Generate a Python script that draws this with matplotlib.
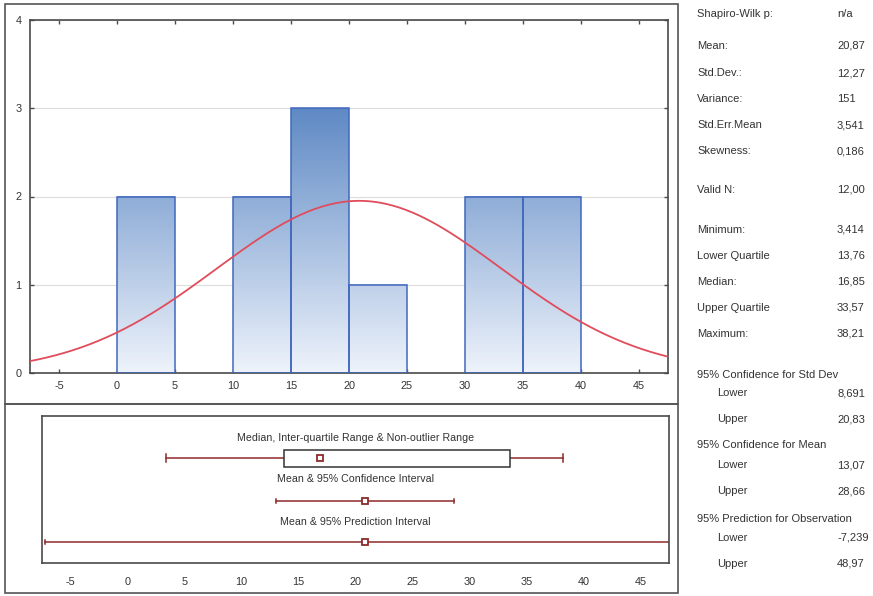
import numpy as np
import matplotlib
matplotlib.use("Agg")
import matplotlib.pyplot as plt
from matplotlib.patches import Rectangle
from matplotlib.colors import LinearSegmentedColormap, Normalize

plt.rcParams['font.family'] = ['Liberation Sans', 'DejaVu Sans']
plt.rcParams['axes.unicode_minus'] = False

# Histogram data
bin_edges = [0, 5, 10, 15, 20, 25, 30, 35, 40]
counts = [2, 0, 2, 3, 1, 0, 2, 2]

# Descriptive statistics
n_valid = 12
mean = 20.87
std_dev = 12.27
minimum = 3.414
lower_q = 13.76
median = 16.85
upper_q = 33.57
maximum = 38.21
ci_mean = (13.07, 28.66)
pred_int = (-7.239, 48.97)

stat_labels = ["Shapiro-Wilk p:", "Mean:", "Std.Dev.:", "Variance:", "Std.Err.Mean",
               "Skewness:", "Valid N:", "Minimum:", "Lower Quartile", "Median:",
               "Upper Quartile", "Maximum:", "95% Confidence for Std Dev", "Lower", "Upper",
               "95% Confidence for Mean", "Lower", "Upper",
               "95% Prediction for Observation", "Lower", "Upper"]
stat_values = ["n/a", "20,87", "12,27", "151", "3,541", "0,186", "12,00", "3,414",
               "13,76", "16,85", "33,57", "38,21", "", "8,691", "20,83", "", "13,07",
               "28,66", "", "-7,239", "48,97"]
stat_rows_px = [13, 45, 72, 98, 124, 150, 189, 229, 255, 281, 307, 333,
                374, 392, 418, 444, 464, 490, 518, 537, 563]
stat_indent = [False] * 13 + [True, True, False, True, True, False, True, True]

W, H = 873, 596
fig = plt.figure(figsize=(W / 100, H / 100), dpi=100)

def fx(x):
    return x / W

def fy(y):
    return 1 - y / H

TXT = "#333333"
SPINE = "#4a4a4a"

# outer frames
for (x0, y0, x1, y1) in [(5, 4, 678, 404), (5, 404, 678, 593)]:
    fig.patches.append(Rectangle((fx(x0), fy(y1)), fx(x1) - fx(x0), fy(y0) - fy(y1),
                                 transform=fig.transFigure, fill=False,
                                 edgecolor="#555555", lw=1.2))

# ---- histogram ----
ax = fig.add_axes([fx(30), fy(373), fx(668) - fx(30), fy(20) - fy(373)])
ax.set_xlim(-7.5, 47.5)
ax.set_ylim(0, 4)
ax.set_yticks([0, 1, 2, 3, 4])
ax.set_xticks(np.arange(-5, 50, 5))
ax.grid(axis="y", color="#dcdcdc", lw=0.8)
ax.set_axisbelow(True)

cmap = LinearSegmentedColormap.from_list("bl", ["#eef3fb", "#5a86c3"])
norm = Normalize(0, 3.1)
grad = np.linspace(0, 1, 256).reshape(-1, 1)
for left, right, c in zip(bin_edges[:-1], bin_edges[1:], counts):
    if c == 0:
        continue
    ax.imshow(grad * c, cmap=cmap, norm=norm, origin="lower", aspect="auto",
              extent=[left, right, 0, c], zorder=2, interpolation="bilinear")
    ax.add_patch(Rectangle((left, 0), right - left, c, fill=False,
                           edgecolor="#4068bd", lw=1.1, zorder=3))
ax.set_xlim(-7.5, 47.5)
ax.set_ylim(0, 4)

binw = bin_edges[1] - bin_edges[0]
xs = np.linspace(-7.5, 47.5, 300)
ys = n_valid * binw * np.exp(-0.5 * ((xs - mean) / std_dev) ** 2) / (std_dev * np.sqrt(2 * np.pi))
ax.plot(xs, ys, color="#e04c5c", lw=1.3, zorder=4)

ax.tick_params(direction="in", top=True, right=True, length=3, width=1,
               color=SPINE, labelsize=7.8, labelcolor=TXT, pad=6)
for s in ax.spines.values():
    s.set_color(SPINE)
    s.set_linewidth(1.2)

# ---- box / interval panel ----
bx = fig.add_axes([fx(42), fy(563), fx(669) - fx(42), fy(416) - fy(563)])
bx.set_xlim(-7.5, 47.5)
bx.set_ylim(0, 1)
bx.set_yticks([])
bx.set_xticks(np.arange(-5, 50, 5))
bx.tick_params(length=0, labelsize=7.8, labelcolor=TXT, pad=10)
for s in bx.spines.values():
    s.set_color(SPINE)
    s.set_linewidth(1.2)

RED = "#8e2a2a"
row_box, row_ci, row_pi = 0.714, 0.422, 0.143
box_h = 0.116

bx.plot([minimum, lower_q], [row_box, row_box], color=RED, lw=1.1)
bx.plot([upper_q, maximum], [row_box, row_box], color=RED, lw=1.1)
for v in (minimum, maximum):
    bx.plot([v, v], [row_box - 0.03, row_box + 0.03], color=RED, lw=1.1)
bx.add_patch(Rectangle((lower_q, row_box - box_h / 2), upper_q - lower_q, box_h,
                       facecolor="white", edgecolor="#333333", lw=1.1, zorder=3))
bx.plot([median], [row_box], marker="s", ms=4.5, mfc="white", mec=RED, mew=1.3, zorder=4)

bx.plot(list(ci_mean), [row_ci, row_ci], color=RED, lw=1.1)
for v in ci_mean:
    bx.plot([v, v], [row_ci - 0.015, row_ci + 0.015], color=RED, lw=1.1)
bx.plot([mean], [row_ci], marker="s", ms=4.5, mfc="white", mec=RED, mew=1.3, zorder=4)

bx.plot(list(pred_int), [row_pi, row_pi], color=RED, lw=1.1)
for v in pred_int:
    bx.plot([v, v], [row_pi - 0.015, row_pi + 0.015], color=RED, lw=1.1)
bx.plot([mean], [row_pi], marker="s", ms=4.5, mfc="white", mec=RED, mew=1.3, zorder=4)

for yy, lab in [(0.857, "Median, Inter-quartile Range & Non-outlier Range"),
                (0.578, "Mean & 95% Confidence Interval"),
                (0.286, "Mean & 95% Prediction Interval")]:
    bx.text(0.5, yy, lab, transform=bx.transAxes, ha="center", va="center_baseline",
            fontsize=7.7, color=TXT)

# ---- statistics text ----
for lab, val, ypx, ind in zip(stat_labels, stat_values, stat_rows_px, stat_indent):
    fig.text(fx(717 if ind else 697), fy(ypx), lab, ha="left", va="center_baseline",
             fontsize=8, color=TXT)
    if val:
        fig.text(fx(837), fy(ypx), val, ha="left", va="center_baseline",
                 fontsize=8, color=TXT)

fig.savefig("out.png", dpi=100)
